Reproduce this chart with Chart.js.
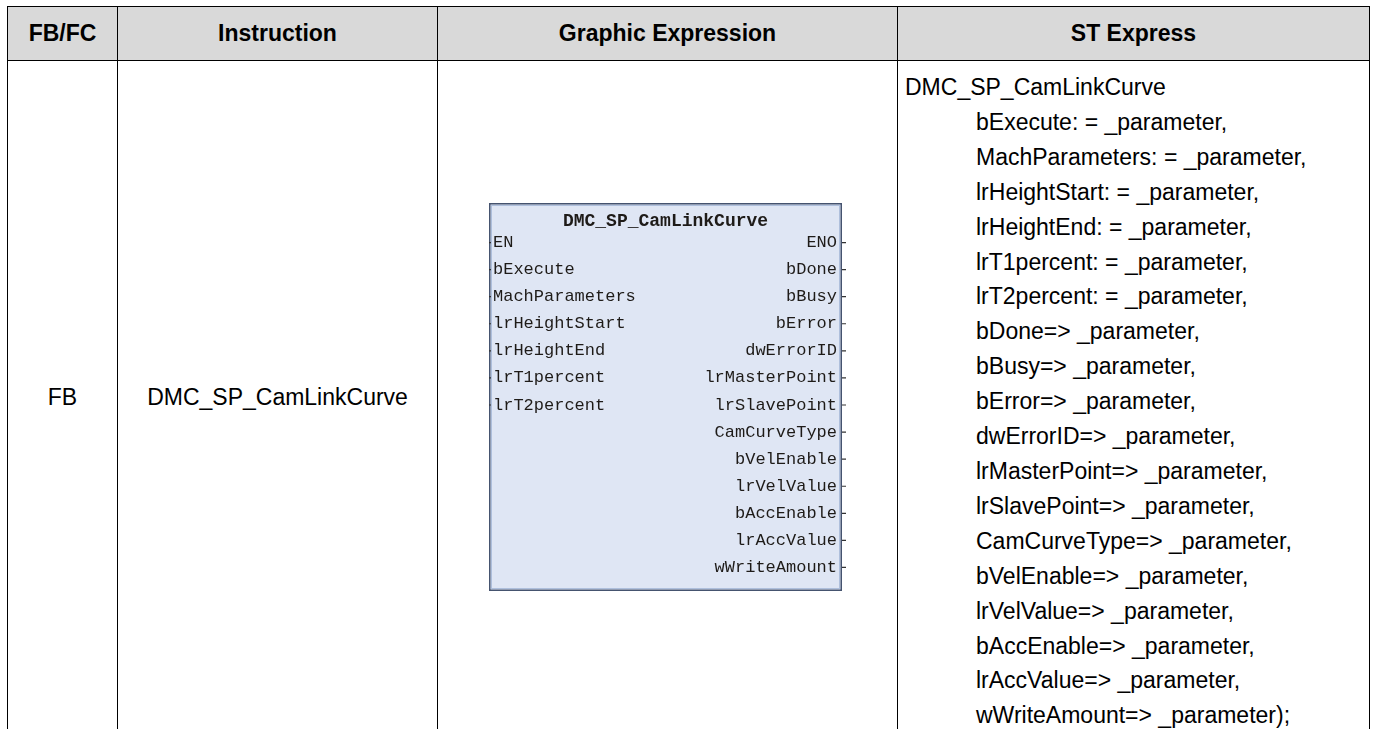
<!DOCTYPE html>
<html>
<head>
<meta charset="utf-8">
<script src="https://cdn.jsdelivr.net/npm/chart.js@4.4.1/dist/chart.umd.min.js"></script>
<style>
    html, body { margin: 0; padding: 0; background: #fff; }
    body { width: 1376px; height: 729px; overflow: hidden; position: relative; font-family: "Liberation Sans", Arial, sans-serif; }
    table { position: absolute; left: 7px; top: 6px; border-collapse: collapse; table-layout: fixed; }
    th, td { border: 1px solid #000; padding: 0; color: #000; }
    th { background: #d9d9d9; height: 53px; font-size: 23px; font-weight: bold; text-align: center; }
    td { height: 664px; font-size: 23px; text-align: center; vertical-align: middle; }
    td.st { text-align: left; vertical-align: top; padding: 9px 0 0 7px; line-height: 34.9px; }
    td.st div.p { padding-left: 71px; }
    #blockWrap { position: absolute; left: 437px; top: 60px; width: 460px; height: 669px; }
</style>
</head>
<body>
<table id="tbl">
    <colgroup><col style="width:110px"><col style="width:320px"><col style="width:460px"><col style="width:472px"></colgroup>
    <thead><tr id="headRow"></tr></thead>
    <tbody><tr id="bodyRow"></tr></tbody>
</table>
<div id="blockWrap"><canvas id="blockChart"></canvas></div>
<script>
// 표 데이터
const columnHeaders = ["FB/FC", "Instruction", "Graphic Expression", "ST Express"];
const blockType = "FB";
const blockName = "DMC_SP_CamLinkCurve";

// 블록 입력/출력 핀
const inputPins = ["EN", "bExecute", "MachParameters", "lrHeightStart", "lrHeightEnd", "lrT1percent", "lrT2percent"];
const outputPins = ["ENO", "bDone", "bBusy", "bError", "dwErrorID", "lrMasterPoint", "lrSlavePoint",
    "CamCurveType", "bVelEnable", "lrVelValue", "bAccEnable", "lrAccValue", "wWriteAmount"];

// ST 표현식 (EN/ENO 제외)
const stInputs = inputPins.slice(1);
const stOutputs = outputPins.slice(1);

// 표 만들기
const headRow = document.getElementById("headRow");
columnHeaders.forEach(h => {
    const th = document.createElement("th");
    th.textContent = h;
    headRow.appendChild(th);
});

const bodyRow = document.getElementById("bodyRow");
[blockType, blockName, ""].forEach(v => {
    const td = document.createElement("td");
    td.textContent = v;
    bodyRow.appendChild(td);
});

const stCell = document.createElement("td");
stCell.className = "st";
const stLines = [blockName];
stInputs.forEach(p => stLines.push(`${p}: = _parameter,`));
stOutputs.forEach((p, i) => stLines.push(`${p}=> _parameter${i === stOutputs.length - 1 ? ");" : ","}`));
stLines.forEach((line, i) => {
    const div = document.createElement("div");
    if (i > 0) div.className = "p";
    div.textContent = line;
    stCell.appendChild(div);
});
bodyRow.appendChild(stCell);

// 블록 그리기 플러그인
const boxColors = {
    fill: "#dfe6f4",
    border: "#45536f",
    inner: "#aebfdc",
    text: "#1e1b18"
};

const blockPlugin = {
    id: "fbBlock",
    beforeDatasetsDraw(chart) {
        const { ctx, chartArea, scales } = chart;
        const y = scales.y;
        const top = chartArea.top - 26;
        const bottom = chartArea.bottom + 10;
        const left = chartArea.left;
        const right = chartArea.right - 4;

        ctx.save();
        ctx.fillStyle = boxColors.fill;
        ctx.fillRect(left, top, right - left, bottom - top);
        ctx.strokeStyle = boxColors.inner;
        ctx.lineWidth = 1;
        ctx.strokeRect(left + 2.5, top + 2.5, right - left - 5, bottom - top - 5);
        ctx.strokeStyle = boxColors.border;
        ctx.lineWidth = 1.5;
        ctx.strokeRect(left + 0.75, top + 0.75, right - left - 1.5, bottom - top - 1.5);

        ctx.fillStyle = boxColors.text;
        ctx.textBaseline = "middle";
        ctx.font = 'bold 18px "Liberation Mono", monospace';
        ctx.textAlign = "center";
        ctx.fillText(blockName, (left + right) / 2, chartArea.top - 8);

        ctx.font = '17px "Liberation Mono", monospace';
        ctx.textAlign = "left";
        inputPins.forEach((p, i) => ctx.fillText(p, left + 4, y.getPixelForValue(i)));
        ctx.textAlign = "right";
        outputPins.forEach((p, i) => ctx.fillText(p, right - 5, y.getPixelForValue(i)));
        ctx.restore();
    }
};

new Chart(document.getElementById("blockChart"), {
    type: "scatter",
    data: {
        datasets: [
            {
                // 출력 핀 단자
                data: outputPins.map(p => ({ x: 1, y: p })),
                pointStyle: "line",
                radius: 4,
                borderColor: "#333",
                borderWidth: 1.2
            },
            {
                // 입력 핀 단자
                data: inputPins.map((p, i) => ({ x: 0, y: outputPins[i] })),
                pointStyle: "line",
                radius: 2,
                borderColor: "#333",
                borderWidth: 1.2
            }
        ]
    },
    options: {
        responsive: true,
        maintainAspectRatio: false,
        animation: false,
        events: [],
        layout: { padding: { left: 52, right: 51, top: 169, bottom: 148 } },
        plugins: { legend: { display: false }, tooltip: { enabled: false } },
        scales: {
            x: { type: "linear", min: 0, max: 1, display: false },
            y: { type: "category", labels: outputPins, offset: true, display: false }
        }
    },
    plugins: [blockPlugin]
});
</script>
</body>
</html>
